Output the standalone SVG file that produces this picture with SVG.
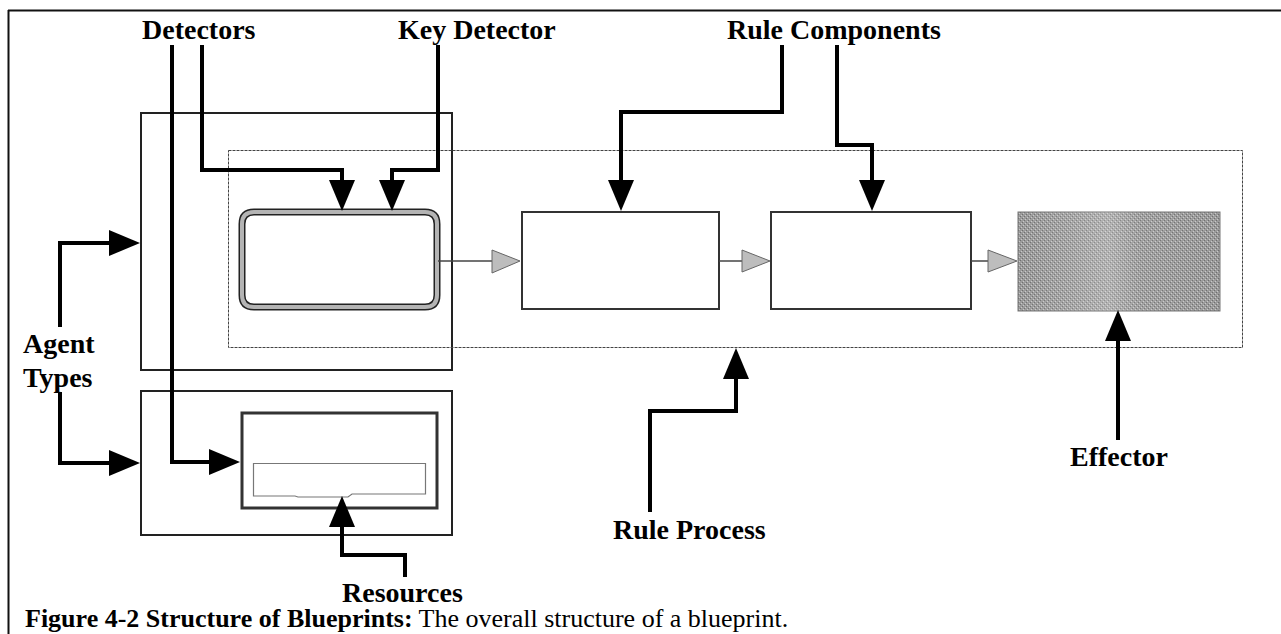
<svg xmlns="http://www.w3.org/2000/svg" width="1281" height="634" viewBox="0 0 1281 634">
  <style>
    .lbl { font-family: "Liberation Serif", "Times New Roman", serif; font-weight: bold; font-size: 28px; fill: #000; }
    .cap { font-family: "Liberation Serif", "Times New Roman", serif; font-size: 26px; fill: #000; }
    .agent { fill: none; stroke: #222; stroke-width: 2; }
    .proc { fill: none; stroke: #444; stroke-width: 1; stroke-dasharray: 3 1; }
    .comp { fill: #fff; stroke: #333; stroke-width: 2; }
    .conn { fill: none; stroke: #000; stroke-width: 4; stroke-linejoin: miter; }
    .flow { fill: none; stroke: #444; stroke-width: 1.5; }
    .tri { fill: #bdbdbd; stroke: #666; stroke-width: 1; }
  </style>
  <defs>
    <marker id="ah" markerUnits="userSpaceOnUse" markerWidth="32" markerHeight="28" refX="11" refY="13" orient="auto">
      <path d="M0,0 L31,13 L0,26 z" fill="#000"/>
    </marker>
    <pattern id="noise" width="4" height="4" patternUnits="userSpaceOnUse">
      <rect width="4" height="4" fill="#9a9a9a"/>
      <rect width="1" height="1" fill="#6e6e6e"/>
      <rect x="2" y="2" width="1" height="1" fill="#6e6e6e"/>
      <rect x="1" y="3" width="1" height="1" fill="#c8c8c8"/>
      <rect x="3" y="1" width="1" height="1" fill="#c8c8c8"/>
    </pattern>
    <linearGradient id="streak" x1="0" y1="0" x2="1" y2="0">
      <stop offset="0" stop-color="#fff" stop-opacity="0"/>
      <stop offset="0.25" stop-color="#fff" stop-opacity="0.12"/>
      <stop offset="0.45" stop-color="#fff" stop-opacity="0.25"/>
      <stop offset="0.6" stop-color="#fff" stop-opacity="0.08"/>
      <stop offset="1" stop-color="#fff" stop-opacity="0"/>
    </linearGradient>
  </defs>

  <!-- page frame -->
  <g id="frame">
    <line x1="8" y1="10.5" x2="1281" y2="10.5" stroke="#111" stroke-width="2"/>
    <line x1="8.5" y1="10" x2="8.5" y2="634" stroke="#111" stroke-width="2"/>
  </g>

  <!-- nodes -->
  <g id="agent-type-1">
    <rect class="agent" x="141" y="113" width="311" height="257"/>
  </g>
  <g id="agent-type-2">
    <rect class="agent" x="141" y="391" width="311" height="144"/>
  </g>
  <g id="rule-process">
    <rect class="proc" x="228.5" y="150.5" width="1014" height="197"/>
  </g>
  <g id="key-detector">
    <path d="M254,212 H425 Q437,212 437,224 V295 Q437,307 425,307 H254 Q242,307 242,295 V224 Q242,212 254,212 Z" fill="#fff" stroke="#222" stroke-width="7"/>
    <path d="M254,212 H425 Q437,212 437,224 V295 Q437,307 425,307 H254 Q242,307 242,295 V224 Q242,212 254,212 Z" fill="none" stroke="#b4b4b4" stroke-width="4"/>
  </g>
  <g id="rule-component-1">
    <rect class="comp" x="522" y="212" width="197" height="97"/>
  </g>
  <g id="rule-component-2">
    <rect class="comp" x="771" y="212" width="200" height="97"/>
  </g>
  <g id="effector">
    <rect x="1018" y="212" width="202" height="99" fill="url(#noise)" stroke="#777" stroke-width="1"/>
    <rect x="1018" y="212" width="202" height="99" fill="url(#streak)"/>
  </g>
  <g id="resources">
    <rect x="242" y="413" width="195" height="95" fill="#fff" stroke="#333" stroke-width="3"/>
    <path d="M253.5,463.5 H425.5 V494 H352 L348,497 H298 L295,496 H253.5 Z" fill="#fff" stroke="#777" stroke-width="1.2"/>
  </g>

  <!-- connectors -->
  <g id="connectors">
    <path class="flow" d="M438,261 H492"/>
    <polygon class="tri" points="492,250 520,261 492,273"/>
    <path class="flow" d="M719,261 H742"/>
    <polygon class="tri" points="742,250 770,261 742,272"/>
    <path class="flow" d="M971,261 H988"/>
    <polygon class="tri" points="988,250 1017,261 988,272"/>

    <path class="conn" d="M202,45 V170 H342 V191" marker-end="url(#ah)"/>
    <path class="conn" d="M438,45 V170 H392 V191" marker-end="url(#ah)"/>
    <path class="conn" d="M172,45 V462 H220" marker-end="url(#ah)"/>
    <path class="conn" d="M60,327 V243 H120" marker-end="url(#ah)"/>
    <path class="conn" d="M60,392 V463 H120" marker-end="url(#ah)"/>
    <path class="conn" d="M782,45 V112 H621 V191" marker-end="url(#ah)"/>
    <path class="conn" d="M837,45 V145 H872 V191" marker-end="url(#ah)"/>
    <path class="conn" d="M650,512 V411 H736 V368" marker-end="url(#ah)"/>
    <path class="conn" d="M1118,440 V330" marker-end="url(#ah)"/>
    <path class="conn" d="M405,577 V555 H342 V516" marker-end="url(#ah)"/>
  </g>

  <!-- labels -->
  <g id="labels">
    <text class="lbl" x="142" y="39">Detectors</text>
    <text class="lbl" x="398" y="39">Key Detector</text>
    <text class="lbl" x="727" y="39">Rule Components</text>
    <text class="lbl" x="23" y="353">Agent</text>
    <text class="lbl" x="23" y="387">Types</text>
    <text class="lbl" x="613" y="539">Rule Process</text>
    <text class="lbl" x="1070" y="466">Effector</text>
    <text class="lbl" x="342" y="602">Resources</text>
    <text class="cap" x="25" y="627"><tspan font-weight="bold">Figure 4-2 Structure of Blueprints:</tspan> The overall structure of a blueprint.</text>
  </g>
</svg>
